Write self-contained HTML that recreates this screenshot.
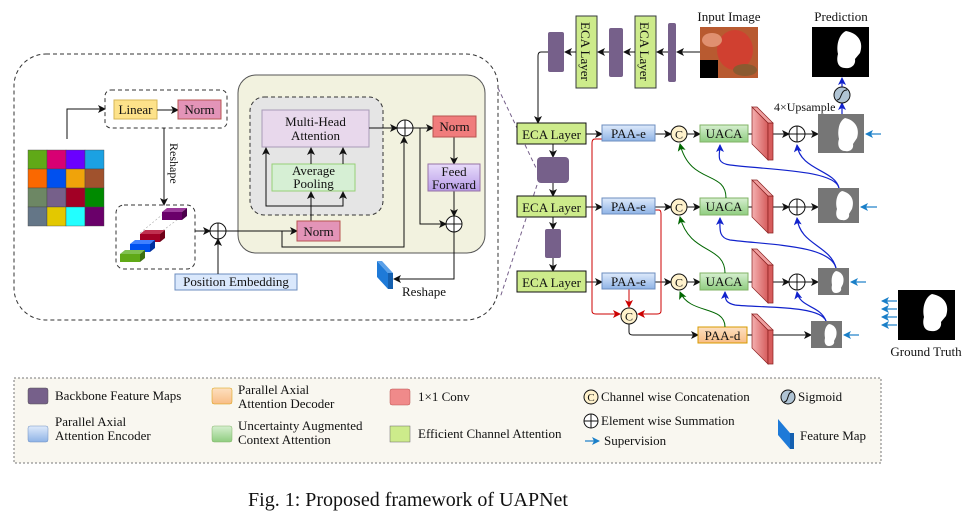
<!DOCTYPE html>
<html><head><meta charset="utf-8"><style>
html,body{margin:0;padding:0;background:#fff}
svg{display:block}
text{font-family:"Liberation Serif",serif;fill:#111}
</style></head><body>
<svg width="980" height="518" viewBox="0 0 980 518" xmlns="http://www.w3.org/2000/svg">
<defs>
<marker id="a" markerWidth="8" markerHeight="8" refX="7" refY="4" orient="auto" markerUnits="userSpaceOnUse"><path d="M0,0 L8,4 L0,8 L2,4z" fill="#111"/></marker>
<marker id="ar" markerWidth="8" markerHeight="8" refX="7" refY="4" orient="auto" markerUnits="userSpaceOnUse"><path d="M0,0 L8,4 L0,8 L2,4z" fill="#c00"/></marker>
<marker id="ag" markerWidth="8" markerHeight="8" refX="7" refY="4" orient="auto" markerUnits="userSpaceOnUse"><path d="M0,0 L8,4 L0,8 L2,4z" fill="#060"/></marker>
<marker id="ab" markerWidth="8" markerHeight="8" refX="7" refY="4" orient="auto" markerUnits="userSpaceOnUse"><path d="M0,0 L8,4 L0,8 L2,4z" fill="#12c"/></marker>
<marker id="al" markerWidth="8" markerHeight="8" refX="7" refY="4" orient="auto" markerUnits="userSpaceOnUse"><path d="M0,0 L8,4 L0,8 L2,4z" fill="#1a7fc8"/></marker>
<linearGradient id="gb" x1="0" y1="0" x2="0" y2="1"><stop offset="0" stop-color="#dfeafb"/><stop offset="1" stop-color="#8fb3e6"/></linearGradient>
<linearGradient id="gg" x1="0" y1="0" x2="0" y2="1"><stop offset="0" stop-color="#d6efd0"/><stop offset="1" stop-color="#8fcd80"/></linearGradient>
<linearGradient id="go" x1="0" y1="0" x2="0" y2="1"><stop offset="0" stop-color="#fde0c0"/><stop offset="1" stop-color="#f8bd86"/></linearGradient>
<linearGradient id="gr" x1="0" y1="0" x2="1" y2="0"><stop offset="0" stop-color="#f4b0b0"/><stop offset="1" stop-color="#d65c5c"/></linearGradient>
<linearGradient id="gp" x1="0" y1="0" x2="0" y2="1"><stop offset="0" stop-color="#e8dcfa"/><stop offset="1" stop-color="#b79be8"/></linearGradient>
</defs>

<rect x="14" y="54" width="484" height="266" rx="32" fill="none" stroke="#333" stroke-dasharray="4,3"/>
<line x1="498" y1="88" x2="537" y2="170" stroke="#76608a" stroke-dasharray="4,3"/>
<line x1="537" y1="185" x2="500" y2="298" stroke="#76608a" stroke-dasharray="4,3"/>

<g stroke="#444" stroke-width="0.4">
<g transform="translate(28,150)">
<rect x="0" y="0" width="19" height="19" fill="#60a917"/><rect x="19" y="0" width="19" height="19" fill="#d80073"/><rect x="38" y="0" width="19" height="19" fill="#6a00ff"/><rect x="57" y="0" width="19" height="19" fill="#1ba1e2"/>
<rect x="0" y="19" width="19" height="19" fill="#fa6800"/><rect x="19" y="19" width="19" height="19" fill="#0050ef"/><rect x="38" y="19" width="19" height="19" fill="#f0a30a"/><rect x="57" y="19" width="19" height="19" fill="#a0522d"/>
<rect x="0" y="38" width="19" height="19" fill="#6d8764"/><rect x="19" y="38" width="19" height="19" fill="#76608a"/><rect x="38" y="38" width="19" height="19" fill="#a20025"/><rect x="57" y="38" width="19" height="19" fill="#008a00"/>
<rect x="0" y="57" width="19" height="19" fill="#647687"/><rect x="19" y="57" width="19" height="19" fill="#e3c800"/><rect x="38" y="57" width="19" height="19" fill="#22ffff"/><rect x="57" y="57" width="19" height="19" fill="#6a006a"/>
</g></g>
<path d="M67,139 V109 H105" fill="none" stroke="#111" marker-end="url(#a)"/>

<rect x="105" y="90" width="122" height="38" rx="6" fill="none" stroke="#333" stroke-dasharray="4,3"/>
<rect x="114" y="100" width="43" height="19" fill="#fde28a" stroke="#d6b656"/>
<text x="135.5" y="114" font-size="13" text-anchor="middle">Linear</text>
<line x1="157" y1="110" x2="178" y2="110" stroke="#111" marker-end="url(#a)"/>
<rect x="178" y="100" width="43" height="19" fill="#e394b8" stroke="#b85450"/>
<text x="199.5" y="114" font-size="13" text-anchor="middle">Norm</text>
<line x1="164" y1="128" x2="164" y2="205" stroke="#111" marker-end="url(#a)"/>
<text font-size="12" transform="translate(170,143) rotate(90)">Reshape</text>

<rect x="116" y="205" width="79" height="64" rx="8" fill="none" stroke="#333" stroke-dasharray="4,3"/>
<g stroke="#aaa" stroke-dasharray="2,2" stroke-width="0.6"><line x1="140" y1="233" x2="168" y2="210"/><line x1="150" y1="240" x2="185" y2="214"/></g>
<path d="M162,212 h20 l5,-4 h-20z" fill="#9a3a9a"/><rect x="162" y="212" width="20" height="8" fill="#6a006a"/><path d="M182,212 l5,-4 v8 l-5,4z" fill="#4a004a"/>
<path d="M140,234 h20 l5,-4 h-20z" fill="#c03050"/><rect x="140" y="234" width="20" height="8" fill="#a20025"/><path d="M160,234 l5,-4 v8 l-5,4z" fill="#700018"/>
<path d="M130,244 h20 l5,-4 h-20z" fill="#4080ff"/><rect x="130" y="244" width="20" height="8" fill="#0050ef"/><path d="M150,244 l5,-4 v8 l-5,4z" fill="#0030a0"/>
<path d="M120,254 h20 l5,-4 h-20z" fill="#80c050"/><rect x="120" y="254" width="20" height="8" fill="#60a917"/><path d="M140,254 l5,-4 v8 l-5,4z" fill="#3d7010"/>
<line x1="195" y1="231" x2="210" y2="231" stroke="#111" marker-end="url(#a)"/>
<circle cx="218" cy="231" r="8" fill="#fff" stroke="#111"/><path d="M210,231h16M218,223v16" stroke="#111"/>
<rect x="175" y="274" width="122" height="16" fill="#dae8fc" stroke="#6c8ebf"/>
<text x="236" y="286" font-size="13" text-anchor="middle">Position Embedding</text>
<line x1="218" y1="274" x2="218" y2="239" stroke="#111" marker-end="url(#a)"/>

<rect x="238" y="75" width="247" height="178" rx="18" fill="#f2f2df" stroke="#555"/>
<rect x="250" y="97" width="133" height="118" rx="14" fill="#e5e5e5" stroke="#333" stroke-dasharray="4,3"/>
<rect x="262" y="110" width="107" height="37" fill="#e8d8ec" stroke="#a99ab8"/>
<text x="315.5" y="126" font-size="13" text-anchor="middle">Multi-Head</text>
<text x="315.5" y="140" font-size="13" text-anchor="middle">Attention</text>
<rect x="272" y="164" width="83" height="27" fill="#d6efd4" stroke="#97d077"/>
<text x="313.5" y="175" font-size="13" text-anchor="middle">Average</text>
<text x="313.5" y="188" font-size="13" text-anchor="middle">Pooling</text>
<g fill="none" stroke="#111">
<path d="M311,221 V192" marker-end="url(#a)"/>
<path d="M311,206 H266 V148" marker-end="url(#a)"/>
<path d="M311,206 H343 V192" marker-end="url(#a)"/>
<path d="M311,164 V148" marker-end="url(#a)"/>
<path d="M343,164 V148" marker-end="url(#a)"/>
<path d="M226,231 H297" marker-end="url(#a)"/>
<path d="M282,231 V247 H404 V137" marker-end="url(#a)"/>
<path d="M369,128 H397" marker-end="url(#a)"/>
<path d="M413,128 H433" marker-end="url(#a)"/>
<path d="M420,128 V224 H446" marker-end="url(#a)"/>
<path d="M454,137 V164" marker-end="url(#a)"/>
<path d="M454,191 V216" marker-end="url(#a)"/>
<path d="M454,232 V279 H394" marker-end="url(#a)"/>
</g>
<rect x="297" y="221" width="43" height="20" fill="#e394b8" stroke="#b85450"/>
<text x="318.5" y="236" font-size="13" text-anchor="middle">Norm</text>
<circle cx="405" cy="128" r="8" fill="#fff" stroke="#111"/><path d="M397,128h16M405,120v16" stroke="#111"/>
<rect x="433" y="116" width="43" height="21" fill="#f07c7c" stroke="#b85450"/>
<text x="454.5" y="131" font-size="13" text-anchor="middle">Norm</text>
<rect x="428" y="164" width="52" height="27" fill="url(#gp)" stroke="#9673a6"/>
<text x="454" y="176" font-size="13" text-anchor="middle">Feed</text>
<text x="454" y="189" font-size="13" text-anchor="middle">Forward</text>
<circle cx="454" cy="224" r="8" fill="#fff" stroke="#111"/><path d="M446,224h16M454,216v16" stroke="#111"/>
<path d="M377,261 l11,12 v16 l-11,-12z" fill="#1e7ad8"/><path d="M388,273 h5 v16 h-5z" fill="#1560b0"/><path d="M377,261 h5 l11,12 h-5z" fill="#5aa0e8"/>
<text x="402" y="296" font-size="13">Reshape</text>

<text x="729" y="21" font-size="13" text-anchor="middle">Input Image</text>
<rect x="700" y="27" width="58" height="51" fill="#b85a30"/>
<ellipse cx="735" cy="50" rx="18" ry="20" fill="#d04030"/><ellipse cx="712" cy="40" rx="10" ry="7" fill="#e09070"/><ellipse cx="745" cy="70" rx="12" ry="6" fill="#8a5a30"/>
<rect x="700" y="60" width="18" height="18" fill="#000"/>
<rect x="668" y="23" width="8" height="59" rx="2" fill="#76608a"/>
<rect x="635" y="16" width="21" height="72" fill="#cdeb8b" stroke="#36393d"/>
<text font-size="13" transform="translate(640,22) rotate(90)">ECA Layer</text>
<rect x="609" y="28" width="14" height="49" rx="2" fill="#76608a"/>
<rect x="576" y="16" width="21" height="72" fill="#cdeb8b" stroke="#36393d"/>
<text font-size="13" transform="translate(581,22) rotate(90)">ECA Layer</text>
<rect x="548" y="32" width="16" height="40" rx="2" fill="#76608a"/>
<g fill="none" stroke="#111">
<path d="M700,52 H677" marker-end="url(#a)"/><path d="M668,52 H657" marker-end="url(#a)"/>
<path d="M635,52 H624" marker-end="url(#a)"/><path d="M609,52 H598" marker-end="url(#a)"/>
<path d="M576,52 H565" marker-end="url(#a)"/>
<path d="M548,52 H541 Q538,52 538,56 V123" marker-end="url(#a)"/>
<path d="M553,144 V157" marker-end="url(#a)"/><path d="M553,183 V196" marker-end="url(#a)"/>
<path d="M553,217 V229" marker-end="url(#a)"/><path d="M553,258 V271" marker-end="url(#a)"/>
</g>
<rect x="537" y="157" width="32" height="26" rx="4" fill="#76608a"/>
<rect x="545" y="229" width="16" height="29" rx="2" fill="#76608a"/>

<g font-size="13">
<rect x="517" y="123" width="69" height="21" fill="#cdeb8b" stroke="#111"/><text x="551.5" y="139" text-anchor="middle">ECA Layer</text>
<rect x="517" y="196" width="69" height="21" fill="#cdeb8b" stroke="#111"/><text x="551.5" y="212" text-anchor="middle">ECA Layer</text>
<rect x="517" y="271" width="69" height="21" fill="#cdeb8b" stroke="#111"/><text x="551.5" y="287" text-anchor="middle">ECA Layer</text>
</g>
<g fill="none" stroke="#111">
<path d="M586,134 H602" marker-end="url(#a)"/><path d="M586,207 H602" marker-end="url(#a)"/><path d="M586,282 H602" marker-end="url(#a)"/>
<path d="M655,134 H671" marker-end="url(#a)"/><path d="M655,207 H671" marker-end="url(#a)"/><path d="M655,282 H671" marker-end="url(#a)"/>
<path d="M687,134 H700" marker-end="url(#a)"/><path d="M687,207 H700" marker-end="url(#a)"/><path d="M687,282 H700" marker-end="url(#a)"/>
<path d="M748,134 H760" marker-end="url(#a)"/><path d="M748,207 H760" marker-end="url(#a)"/><path d="M748,282 H760" marker-end="url(#a)"/>
<path d="M773,134 H789" marker-end="url(#a)"/><path d="M773,207 H789" marker-end="url(#a)"/><path d="M773,282 H789" marker-end="url(#a)"/>
<path d="M805,134 H818" marker-end="url(#a)"/><path d="M805,207 H818" marker-end="url(#a)"/><path d="M805,282 H818" marker-end="url(#a)"/>
<path d="M629,324 V332 Q629,335 633,335 H698" marker-end="url(#a)"/>
<path d="M747,335 H760" marker-end="url(#a)"/><path d="M773,335 H811" marker-end="url(#a)"/>
</g>
<g fill="none" stroke="#c00">
<path d="M602,139 H595 Q592,139 592,143 V311 Q592,314 596,314 H620" marker-end="url(#ar)"/>
<path d="M655,210 H659 Q661,210 661,214 V311 Q661,314 657,314 H638" marker-end="url(#ar)"/>
<path d="M629,289 V307" marker-end="url(#ar)"/>
</g>
<g font-size="13">
<rect x="602" y="125" width="53" height="16" fill="url(#gb)" stroke="#6c8ebf"/><text x="628.5" y="138" text-anchor="middle">PAA-e</text>
<rect x="602" y="198" width="53" height="16" fill="url(#gb)" stroke="#6c8ebf"/><text x="628.5" y="211" text-anchor="middle">PAA-e</text>
<rect x="602" y="273" width="53" height="16" fill="url(#gb)" stroke="#6c8ebf"/><text x="628.5" y="286" text-anchor="middle">PAA-e</text>
<rect x="700" y="125" width="48" height="17" fill="url(#gg)" stroke="#82b366"/><text x="724" y="138" text-anchor="middle">UACA</text>
<rect x="700" y="198" width="48" height="17" fill="url(#gg)" stroke="#82b366"/><text x="724" y="211" text-anchor="middle">UACA</text>
<rect x="700" y="273" width="48" height="17" fill="url(#gg)" stroke="#82b366"/><text x="724" y="286" text-anchor="middle">UACA</text>
<rect x="698" y="327" width="49" height="16" fill="url(#go)" stroke="#d79b00"/><text x="722.5" y="340" text-anchor="middle">PAA-d</text>
</g>
<g font-size="12">
<circle cx="679" cy="134" r="8" fill="#fff2cc" stroke="#111"/><text x="679" y="138.5" text-anchor="middle">C</text>
<circle cx="679" cy="207" r="8" fill="#fff2cc" stroke="#111"/><text x="679" y="211.5" text-anchor="middle">C</text>
<circle cx="679" cy="282" r="8" fill="#fff2cc" stroke="#111"/><text x="679" y="286.5" text-anchor="middle">C</text>
<circle cx="629" cy="316" r="8" fill="#fff2cc" stroke="#111"/><text x="629" y="320.5" text-anchor="middle">C</text>
</g>
<g stroke="#8a2020" stroke-width="0.7">
<path d="M752,107 l16,16 v37 l-16,-16z" fill="url(#gr)"/><path d="M768,123 h5 v37 h-5z" fill="#d65c5c"/><path d="M752,107 h5 l16,16 h-5z" fill="#f0a0a0"/>
<path d="M752,180 l16,16 v37 l-16,-16z" fill="url(#gr)"/><path d="M768,196 h5 v37 h-5z" fill="#d65c5c"/><path d="M752,180 h5 l16,16 h-5z" fill="#f0a0a0"/>
<path d="M752,249 l16,16 v38 l-16,-16z" fill="url(#gr)"/><path d="M768,265 h5 v38 h-5z" fill="#d65c5c"/><path d="M752,249 h5 l16,16 h-5z" fill="#f0a0a0"/>
<path d="M752,314 l16,16 v34 l-16,-16z" fill="url(#gr)"/><path d="M768,330 h5 v34 h-5z" fill="#d65c5c"/><path d="M752,314 h5 l16,16 h-5z" fill="#f0a0a0"/>
</g>
<g stroke="#111" fill="#fff">
<circle cx="797" cy="134" r="8"/><path d="M789,134h16M797,126v16"/>
<circle cx="797" cy="207" r="8"/><path d="M789,207h16M797,199v16"/>
<circle cx="797" cy="282" r="8"/><path d="M789,282h16M797,274v16"/>
</g>
<g fill="none" stroke="#060">
<path d="M726,198 C726,170 690,185 680,144" marker-end="url(#ag)"/>
<path d="M725,273 C725,245 690,255 680,217" marker-end="url(#ag)"/>
<path d="M725,327 C725,305 690,315 680,292" marker-end="url(#ag)"/>
</g>
<g fill="none" stroke="#12c" stroke-width="1.2">
<path d="M839,188 C835,170 770,170 730,165 C715,163 720,155 720,145" marker-end="url(#ab)"/>
<path d="M839,188 C835,170 800,170 797,145" marker-end="url(#ab)"/>
<path d="M836,268 C830,245 770,245 730,240 C718,238 720,228 720,218" marker-end="url(#ab)"/>
<path d="M836,268 C830,245 800,245 797,218" marker-end="url(#ab)"/>
<path d="M826,321 C820,305 760,308 735,305 C726,303 725,300 725,292" marker-end="url(#ab)"/>
<path d="M826,321 C820,305 800,308 797,292" marker-end="url(#ab)"/>
<path d="M842,114 V103" marker-end="url(#ab)"/>
<path d="M842,87 V78" marker-end="url(#ab)"/>
</g>
<rect x="818" y="114" width="46" height="39" fill="#767676"/><path d="M845,118 c10,2 15,10 12,20 l-4,6 c1,5 -3,8 -8,7 c-6,0 -8,-6 -6,-12 c-2,-8 0,-18 6,-21z" fill="#fff"/>
<rect x="818" y="188" width="41" height="35" fill="#767676"/><path d="M842,191 c9,2 13,9 10,18 l-3,5 c1,4 -3,7 -7,6 c-5,0 -7,-5 -5,-11 c-2,-7 0,-16 5,-18z" fill="#fff"/>
<rect x="818" y="268" width="31" height="27" fill="#767676"/><path d="M836,271 c6,1 9,6 7,13 l-2,4 c1,3 -2,5 -5,5 c-4,0 -5,-4 -4,-8 c-1,-6 0,-12 4,-14z" fill="#fff"/>
<rect x="811" y="321" width="31" height="27" fill="#767676"/><path d="M829,324 c6,1 9,6 7,13 l-2,4 c1,3 -2,5 -5,5 c-4,0 -5,-4 -4,-8 c-1,-6 0,-12 4,-14z" fill="#fff"/>
<text x="841" y="21" font-size="13" text-anchor="middle">Prediction</text>
<rect x="812" y="27" width="57" height="50" fill="#000"/><path d="M846,31 c12,2 18,11 14,22 l-5,6 c1,6 -4,10 -10,9 c-7,0 -9,-7 -7,-14 c-2,-9 1,-20 8,-23z" fill="#fff"/>
<circle cx="842" cy="95" r="8" fill="#b0c4d4" stroke="#111"/><path d="M837,100 C842,100 840,90 847,90" fill="none" stroke="#111"/>
<text x="774" y="111" font-size="12">4×Upsample</text>
<g fill="none" stroke="#1a7fc8" stroke-width="1.2">
<path d="M881,134 H866" marker-end="url(#al)"/><path d="M877,207 H861" marker-end="url(#al)"/>
<path d="M866,282 H851" marker-end="url(#al)"/><path d="M859,335 H844" marker-end="url(#al)"/>
<path d="M897,301 H882" marker-end="url(#al)"/><path d="M897,309 H882" marker-end="url(#al)"/>
<path d="M897,317 H882" marker-end="url(#al)"/><path d="M897,325 H882" marker-end="url(#al)"/>
</g>
<rect x="898" y="290" width="57" height="50" fill="#000"/><path d="M932,294 c12,2 18,11 14,22 l-5,6 c1,6 -4,10 -10,9 c-7,0 -9,-7 -7,-14 c-2,-9 1,-20 8,-23z" fill="#fff"/>
<text x="926" y="356" font-size="13" text-anchor="middle">Ground Truth</text>

<!-- legend -->
<rect x="14" y="378" width="867" height="85" fill="#f9f7f0" stroke="#777" stroke-dasharray="2,2"/>
<g font-size="13">
<rect x="28" y="388" width="20" height="16" rx="2" fill="#76608a" stroke="#555" stroke-width="0.5"/><text x="55" y="400">Backbone Feature Maps</text>
<rect x="28" y="426" width="20" height="16" rx="2" fill="url(#gb)" stroke="#6c8ebf" stroke-width="0.5"/><text x="55" y="426">Parallel Axial</text><text x="55" y="440">Attention Encoder</text>
<rect x="212" y="388" width="20" height="16" rx="2" fill="url(#go)" stroke="#d79b00" stroke-width="0.5"/><text x="238" y="394">Parallel Axial</text><text x="238" y="408">Attention Decoder</text>
<rect x="212" y="426" width="20" height="16" rx="2" fill="url(#gg)" stroke="#82b366" stroke-width="0.5"/><text x="238" y="430">Uncertainty Augmented</text><text x="238" y="444">Context Attention</text>
<rect x="390" y="389" width="20" height="16" rx="2" fill="#f08a8a" stroke="#b85450" stroke-width="0.5"/><text x="418" y="401">1×1 Conv</text>
<rect x="390" y="426" width="20" height="16" fill="#cdeb8b" stroke="#666" stroke-width="0.5"/><text x="418" y="438">Efficient Channel Attention</text>
<circle cx="591" cy="397" r="7" fill="#fff2cc" stroke="#111"/><text x="591" y="401" font-size="11" text-anchor="middle">C</text><text x="601" y="401">Channel wise Concatenation</text>
<circle cx="591" cy="421" r="7" fill="#fff" stroke="#111"/><path d="M584,421h14M591,414v14" stroke="#111"/><text x="601" y="425">Element wise Summation</text>
<path d="M585,441 H599" stroke="#1a7fc8" stroke-width="1.2" marker-end="url(#al)"/><text x="604" y="445">Supervision</text>
<circle cx="788" cy="397" r="7" fill="#b0c4d4" stroke="#111"/><path d="M784,402 C789,402 787,392 792,392" fill="none" stroke="#111"/><text x="798" y="401">Sigmoid</text>
<path d="M778,419 l12,14 v16 l-12,-14z" fill="#1e7ad8"/><path d="M790,433 h4 v16 h-4z" fill="#1560b0"/><text x="800" y="440">Feature Map</text>
</g>
<text x="408" y="506" font-size="20" text-anchor="middle">Fig. 1: Proposed framework of UAPNet</text>
</svg>
</body></html>
